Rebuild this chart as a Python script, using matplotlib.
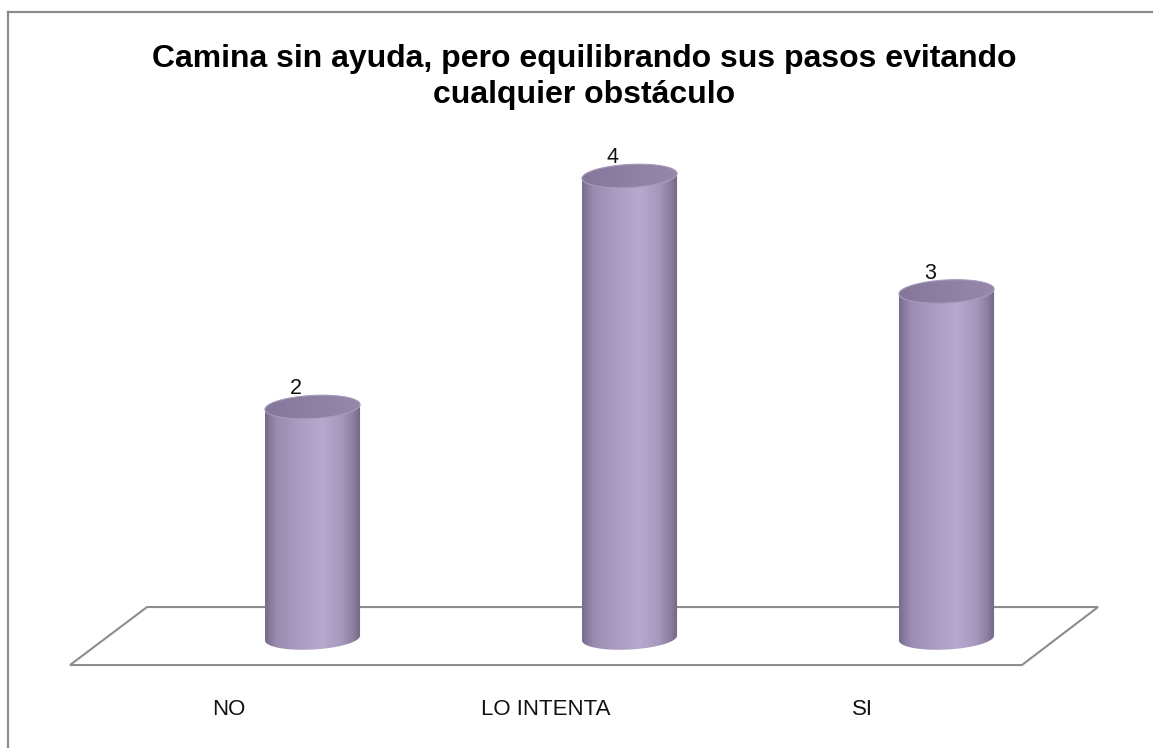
import numpy as np
import matplotlib
matplotlib.use("Agg")
import matplotlib.pyplot as plt
from matplotlib.patches import Polygon
from matplotlib.colors import LinearSegmentedColormap
from matplotlib.lines import Line2D

# ---- data ----
categories = ["NO", "LO INTENTA", "SI"]
values = [2, 4, 3]
title = "Camina sin ayuda, pero equilibrando sus pasos evitando\ncualquier obstáculo"

W, H = 1153, 748
fig = plt.figure(figsize=(W / 100, H / 100), dpi=100)
fig.patch.set_facecolor("white")
ax = fig.add_axes([0, 0, 1, 1])
ax.set_xlim(-312.5 / 317, (W - 312.5) / 317)
ax.set_ylim((638 - H) / 115.5, 638 / 115.5)
ax.axis("off")

# outer border (top and left)
fig.add_artist(Line2D([8 / W, 8 / W], [0, 1 - 12 / H], transform=fig.transFigure,
                      color="#8c8c8c", lw=1.6))
fig.add_artist(Line2D([8 / W, 1], [1 - 12 / H, 1 - 12 / H], transform=fig.transFigure,
                      color="#8c8c8c", lw=1.6))

# floor
floor = Polygon([(-0.765, -0.234), (-0.522, 0.268), (2.478, 0.268), (2.238, -0.234)],
                closed=True, fill=False, edgecolor="#8c8c8c", lw=1.5, zorder=1)
ax.add_patch(floor)

half_w = 0.15      # half width of cylinder (data units)
ry = 0.10          # ellipse semi-minor (data units)
shear = 0.14       # tilt of ellipses

cmap = LinearSegmentedColormap.from_list("cyl", [
    (0.0, "#786b8c"), (0.12, "#9a8cb0"), (0.35, "#ab9cc2"),
    (0.6, "#b7a8cd"), (0.8, "#a798bd"), (0.92, "#8c7f9f"), (1.0, "#726684")])
cap_cmap = LinearSegmentedColormap.from_list("cap", [
    (0.0, "#84779a"), (0.5, "#8d80a3"), (1.0, "#9588aa")])

def ellipse_pts(cx, cy, t):
    dx = half_w * np.cos(t)
    return np.column_stack([cx + dx, cy + ry * np.sin(t) + shear * dx])

for i, v in enumerate(values):
    cx = i
    t_low = np.linspace(np.pi, 2 * np.pi, 80)
    t_up = np.linspace(0, np.pi, 80)
    body = np.vstack([ellipse_pts(cx, 0, t_low), ellipse_pts(cx, v, t_up)])
    poly = Polygon(body, closed=True, facecolor="none", edgecolor="none", zorder=3)
    ax.add_patch(poly)
    grad = np.linspace(0, 1, 256).reshape(1, -1)
    im = ax.imshow(grad, cmap=cmap, aspect="auto",
                   extent=[cx - half_w, cx + half_w, -0.3, v + 0.3],
                   zorder=3, interpolation="bilinear")
    im.set_clip_path(poly)
    # top cap
    t_all = np.linspace(0, 2 * np.pi, 160)
    cap = Polygon(ellipse_pts(cx, v, t_all), closed=True, facecolor="none",
                  edgecolor="none", zorder=4)
    ax.add_patch(cap)
    im2 = ax.imshow(grad, cmap=cap_cmap, aspect="auto",
                    extent=[cx - half_w, cx + half_w, v - 0.3, v + 0.3],
                    zorder=4, interpolation="bilinear")
    im2.set_clip_path(cap)
    rim = Polygon(ellipse_pts(cx, v, t_all), closed=True, facecolor="none",
                  edgecolor="#a89bbd", lw=0.8, zorder=4.5)
    ax.add_patch(rim)
    # value label
    ax.text(cx - 0.053, v + ry - 0.035, str(v), ha="center", va="bottom",
            fontsize=15.5, family="Liberation Sans", color="#111111", zorder=5)
    # category label
    ax.text(cx - 0.265, -0.62, categories[i], ha="center", va="center",
            fontsize=16, family="Liberation Sans", color="#111111")

fig.text(584 / W, 1 - 77 / H, title, ha="center", va="center", fontsize=23,
         fontweight="bold", family="Liberation Sans", linespacing=1.22, color="#000000")

fig.savefig("out.png", dpi=100, facecolor="white")
